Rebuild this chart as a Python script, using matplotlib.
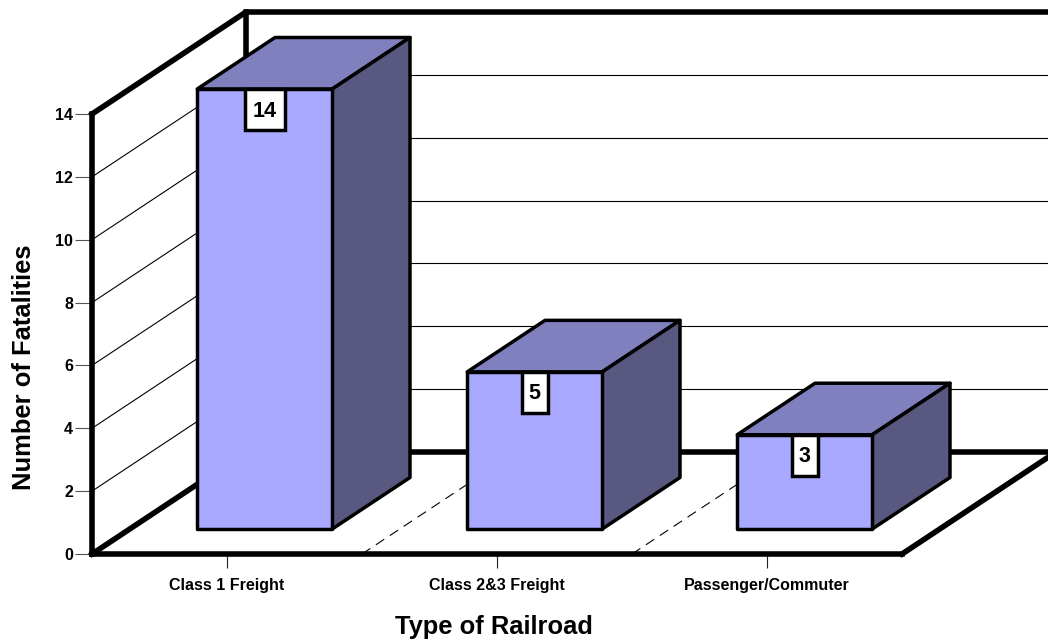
import matplotlib
matplotlib.use("Agg")
import matplotlib.pyplot as plt
from matplotlib.patches import Polygon, Rectangle

plt.rcParams['font.family'] = ['Liberation Sans', 'DejaVu Sans']

categories = ["Class 1 Freight", "Class 2&3 Freight", "Passenger/Commuter"]
fatalities = [14, 5, 3]
y_ticks = [0, 2, 4, 6, 8, 10, 12, 14]

W, H = 1048, 644
PX_LEFT, PX_RIGHT, PX_ZERO, PX_TOP = 92, 902, 554, 114
PX_PER_CAT = (PX_RIGHT - PX_LEFT) / 3
PX_PER_UNIT = (PX_ZERO - PX_TOP) / 14
# Oblique projection: how far the full floor depth shifts a point, in data units
DEPTH_X = 154 / PX_PER_CAT
DEPTH_Y = 102 / PX_PER_UNIT
BAR_HALF = 0.25
BAR_D0, BAR_D1 = 0.245, 0.75
X_BEYOND = 3.3  # wall lines run off the right side of the figure

FRONT, TOP, SIDE = "#A9A9FF", "#8080BF", "#585880"
THICK, EDGE, THIN = 4.0, 2.5, 0.8


def proj(x, y, d):
    return x + d * DEPTH_X, y + d * DEPTH_Y


fig = plt.figure(figsize=(W / 100, H / 100), dpi=100, facecolor="white")
ax = fig.add_axes([PX_LEFT / W, 1 - PX_ZERO / H,
                   (PX_RIGHT - PX_LEFT) / W, (PX_ZERO - PX_TOP) / H])
ax.set_xlim(-0.5, 2.5)
ax.set_ylim(0, 14)
ax.patch.set_visible(False)
for name in ("top", "right"):
    ax.spines[name].set_visible(False)
for name in ("left", "bottom"):
    ax.spines[name].set_linewidth(THICK)
    ax.spines[name].set_zorder(6)
    ax.spines[name].set_capstyle("projecting")

# Gridlines on the side wall and the back wall
for v in y_ticks[1:-1]:
    sx = [proj(-0.5, v, d)[0] for d in (0, 1)]
    sy = [proj(-0.5, v, d)[1] for d in (0, 1)]
    ax.plot(sx, sy, color="black", lw=THIN, clip_on=False, zorder=1)
    bx, by = proj(-0.5, v, 1)
    ax.plot([bx, X_BEYOND], [by, by], color="black", lw=THIN, clip_on=False, zorder=1)

# Dashed floor separators between categories
for x in (0.5, 1.5):
    px, py = zip(proj(x, 0, 0), proj(x, 0, 1))
    ax.plot(px, py, color="black", lw=THIN, ls=(0, (9, 6)), clip_on=False, zorder=1)

# Wall and floor outlines
corner_floor = proj(-0.5, 0, 1)
corner_top = proj(-0.5, 14, 1)
right_floor = proj(2.5, 0, 1)
outline = dict(color="black", lw=THICK, clip_on=False, zorder=2, solid_capstyle="projecting")
ax.plot([-0.5, corner_top[0], X_BEYOND], [14, corner_top[1], corner_top[1]],
        solid_joinstyle="round", **outline)
ax.plot([corner_top[0], corner_floor[0]], [corner_top[1], corner_floor[1]], **outline)
ax.plot([-0.5, corner_floor[0], X_BEYOND], [0, corner_floor[1], corner_floor[1]],
        solid_joinstyle="round", **outline)
ax.plot([2.5, right_floor[0]], [0, right_floor[1]], **outline)

# Oblique bars with hanging value labels
for i, value in enumerate(fatalities):
    l, r = i - BAR_HALF, i + BAR_HALF
    fl0, fr0 = proj(l, 0, BAR_D0), proj(r, 0, BAR_D0)
    fl1, fr1 = proj(l, value, BAR_D0), proj(r, value, BAR_D0)
    bl1, br1 = proj(l, value, BAR_D1), proj(r, value, BAR_D1)
    br0 = proj(r, 0, BAR_D1)
    style = dict(edgecolor="black", linewidth=EDGE, joinstyle="round",
                 clip_on=False, zorder=3 + i * 0.1)
    ax.add_patch(Polygon([fl1, fr1, br1, bl1], facecolor=TOP, **style))
    ax.add_patch(Polygon([fr0, br0, br1, fr1], facecolor=SIDE, **style))
    ax.add_patch(Polygon([fl0, fr0, fr1, fl1], facecolor=FRONT, **style))

    label = str(value)
    box_w = (12 + 14 * len(label)) / PX_PER_CAT
    box_h = 41 / PX_PER_UNIT
    cx = (fl1[0] + fr1[0]) / 2
    ax.add_patch(Rectangle((cx - box_w / 2, fl1[1] - box_h), box_w, box_h,
                           facecolor="white", edgecolor="black", linewidth=EDGE,
                           clip_on=False, zorder=4 + i * 0.1))
    ax.text(cx, fl1[1] - box_h / 2 + 1 / PX_PER_UNIT, label, ha="center",
            va="center_baseline", fontsize=15.5, fontweight="bold", zorder=5 + i * 0.1)

ax.set_xticks(range(len(categories)))
ax.set_xticklabels(categories, fontsize=11.5, fontweight="bold")
ax.set_yticks(y_ticks)
ax.set_yticklabels([str(t) for t in y_ticks], fontsize=11.5, fontweight="bold")
ax.tick_params(axis="x", length=10, width=0.8, pad=7.5, color="#222222")
ax.tick_params(axis="y", length=12, width=0.8, pad=1.5, color="#555555")

ax.set_xlabel("Type of Railroad", fontsize=18.4, fontweight="bold", va="center")
ax.xaxis.set_label_coords((494 - PX_LEFT) / (PX_RIGHT - PX_LEFT), -(627 - PX_ZERO) / (PX_ZERO - PX_TOP))
ax.set_ylabel("Number of Fatalities", fontsize=18.4, fontweight="bold", va="center")
ax.yaxis.set_label_coords(-(PX_LEFT - 24) / (PX_RIGHT - PX_LEFT), (PX_ZERO - 367) / (PX_ZERO - PX_TOP))

fig.savefig("out.png", dpi=100, facecolor="white")
